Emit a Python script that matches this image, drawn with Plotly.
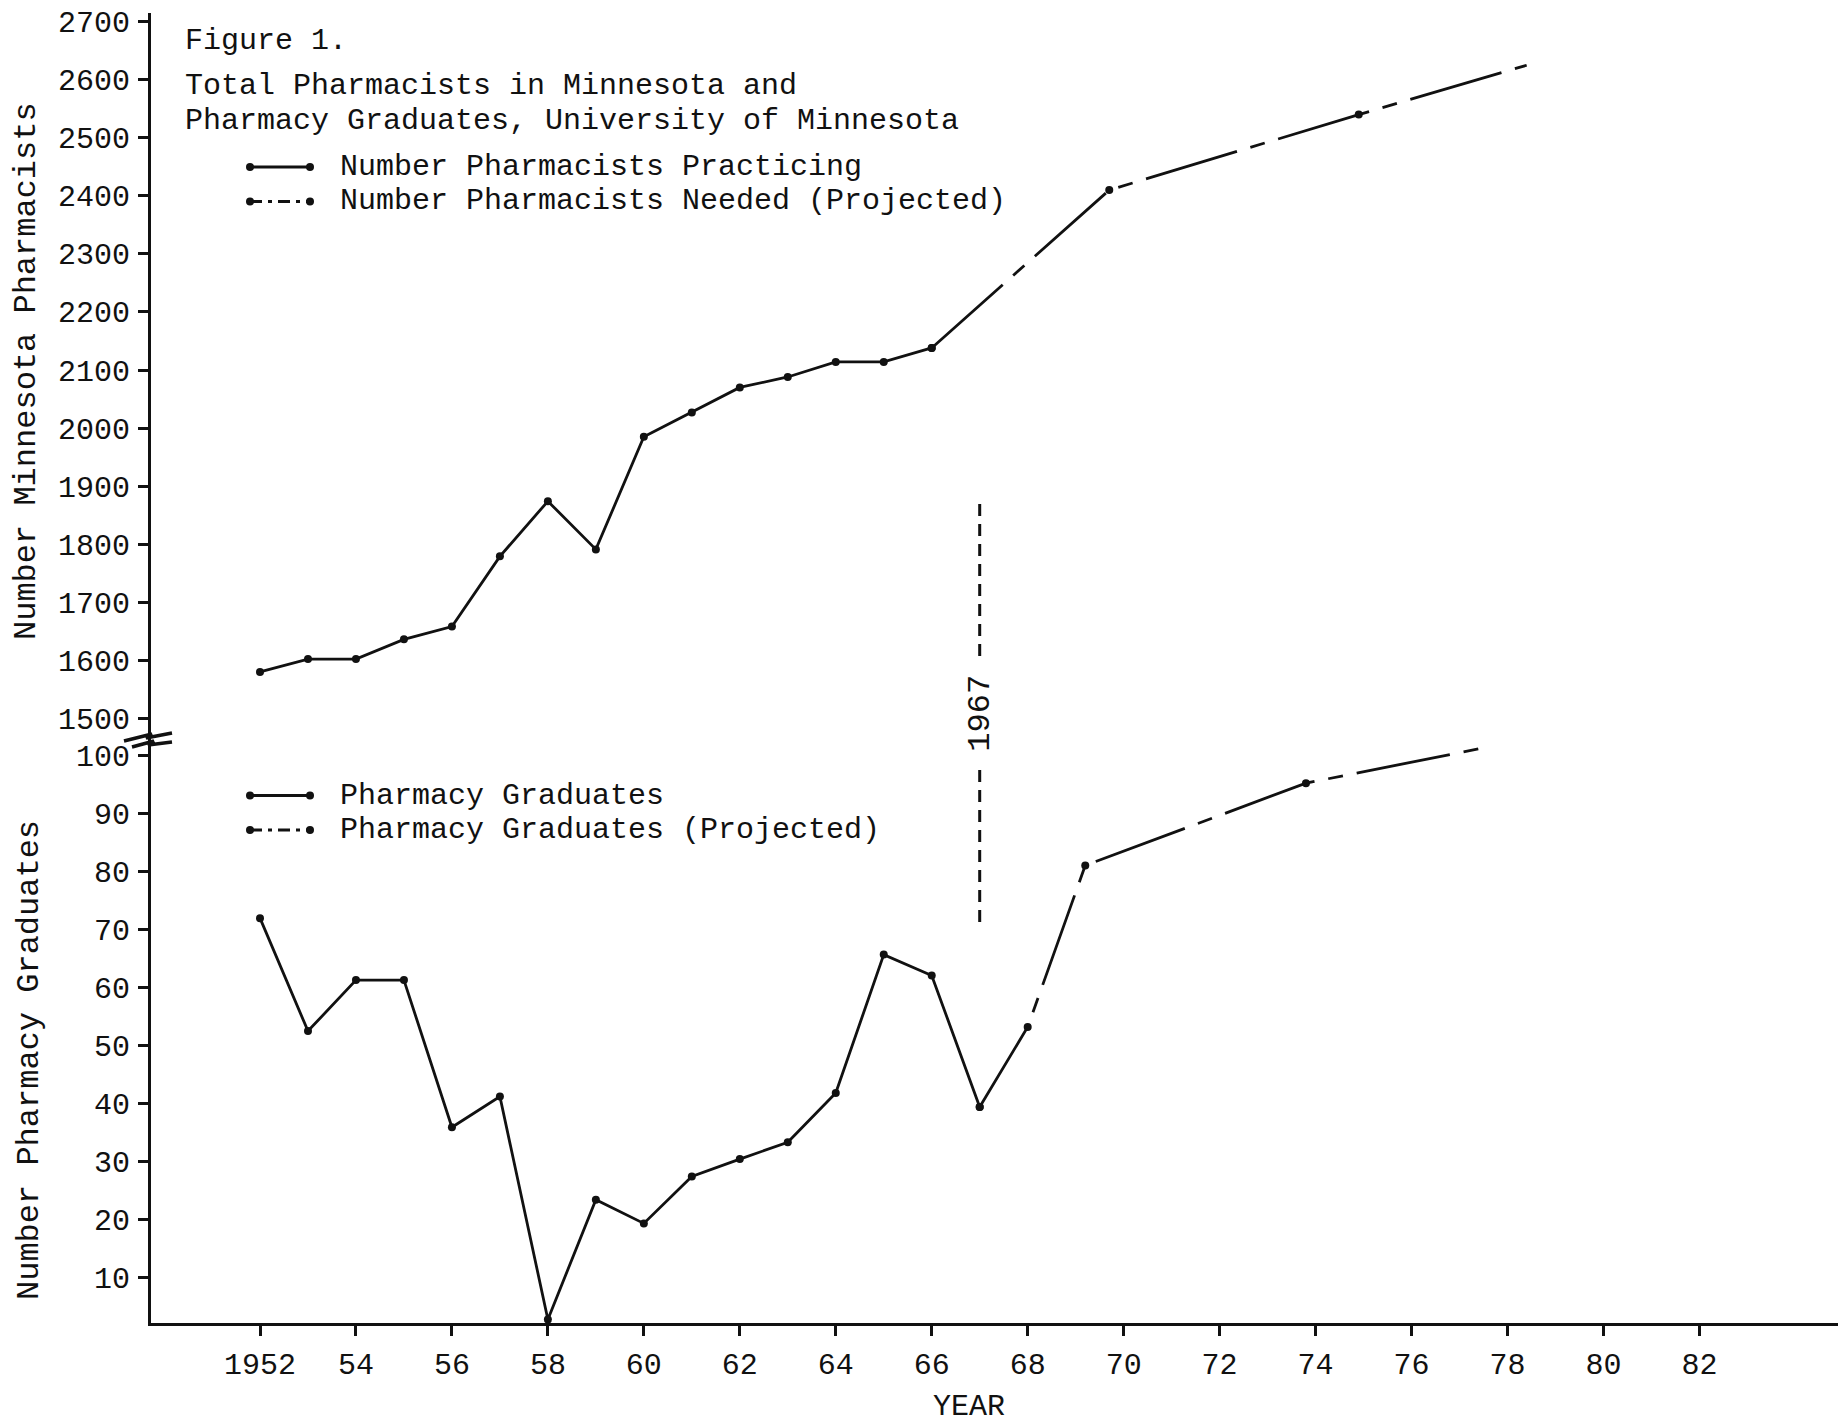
import plotly.graph_objects as go

# ---------------- data ----------------
years_practicing = [1952, 1953, 1954, 1955, 1956, 1957, 1958, 1959,
                    1960, 1961, 1962, 1963, 1964, 1965, 1966]
pharmacists_practicing = [1580, 1602, 1602, 1636, 1658, 1779, 1874, 1791,
                          1985, 2027, 2070, 2088, 2114, 2114, 2138]

years_needed = [1966, 1969.7, 1974.9, 1978.4]
pharmacists_needed = [2138, 2410, 2540, 2625]

years_graduates = [1952, 1953, 1954, 1955, 1956, 1957, 1958, 1959,
                   1960, 1961, 1962, 1963, 1964, 1965, 1966, 1967]
graduates = [72, 52.5, 61.3, 61.3, 35.9, 41.2, 2.7, 23.4,
             19.3, 27.4, 30.4, 33.3, 41.8, 65.7, 62.1, 39.4]

years_graduates_proj = [1967, 1968, 1969.2, 1973.8, 1977.5]
graduates_proj = [39.4, 53.2, 81.1, 95.3, 101.4]

x_tick_years = [1952, 1954, 1956, 1958, 1960, 1962, 1964, 1966,
                1968, 1970, 1972, 1974, 1976, 1978, 1980, 1982]
x_tick_labels = ["1952", "54", "56", "58", "60", "62", "64", "66",
                 "68", "70", "72", "74", "76", "78", "80", "82"]
upper_ticks = [1500, 1600, 1700, 1800, 1900, 2000, 2100, 2200,
               2300, 2400, 2500, 2600, 2700]
lower_ticks = [10, 20, 30, 40, 50, 60, 70, 80, 90, 100]

marker_year = 1967

title_lines = ["Figure 1.",
               "Total Pharmacists in Minnesota and",
               "Pharmacy Graduates, University of Minnesota"]
name_practicing = "Number Pharmacists Practicing"
name_needed = "Number Pharmacists Needed (Projected)"
name_grad = "Pharmacy Graduates"
name_grad_proj = "Pharmacy Graduates (Projected)"

# ---------------- page geometry ----------------
W, H = 1838, 1423
L, T, B = 151, 13, 1323            # plot area edges (px)
PW, PH = W - L, B - T
BREAK_PX = 738                      # axis break between the two panels
PX_PER_YEAR = 47.98
X_MIN = 1952 - (260 - L) / PX_PER_YEAR
X_MAX = X_MIN + PW / PX_PER_YEAR

def xp(px):
    return (px - L) / PW

def yp(py):
    return (B - py) / PH

split = yp(BREAK_PX)

FONT = "Liberation Mono, Courier New, monospace"
INK = "#111111"
DASH_PROJ = "95px,14px,15px,14px"
LW = 2.8
MS = 8
TXT = 30

fig = go.Figure()

def add_series(xs, ys, yaxis, name, dash, end_marker=True):
    # the line itself
    fig.add_trace(go.Scatter(
        x=xs, y=ys, xaxis="x", yaxis=yaxis, mode="lines",
        line=dict(color=INK, width=LW, dash=dash),
        showlegend=False, name=name, hoverinfo="skip"))
    # plotted points (projections end without a dot)
    px_, py_ = (xs, ys) if end_marker else (xs[:-1], ys[:-1])
    fig.add_trace(go.Scatter(
        x=px_, y=py_, xaxis="x", yaxis=yaxis, mode="markers",
        marker=dict(color=INK, size=MS, line=dict(width=0)),
        showlegend=False, name=name))

add_series(years_practicing, pharmacists_practicing, "y2", name_practicing, "solid")
add_series(years_needed, pharmacists_needed, "y2", name_needed, DASH_PROJ, end_marker=False)
add_series(years_graduates, graduates, "y", name_grad, "solid")
add_series(years_graduates_proj, graduates_proj, "y", name_grad_proj, DASH_PROJ, end_marker=False)

shapes = []
annotations = []

# title lines
for txt, py in zip(title_lines, [41, 86, 120.5]):
    annotations.append(dict(text=txt, x=xp(183), y=yp(py), xref="paper", yref="paper",
                            xanchor="left", yanchor="middle", showarrow=False,
                            font=dict(family=FONT, size=TXT, color=INK)))

# hand-made legend entries
def legend_entry(name, py, dash, x0=250, x1=310, xt=338):
    shapes.append(dict(type="line", xref="paper", yref="paper",
                       x0=xp(x0), x1=xp(x1), y0=yp(py), y1=yp(py),
                       line=dict(color=INK, width=LW, dash=dash)))
    for cx in (x0, x1):
        shapes.append(dict(type="circle", xref="paper", yref="paper",
                           x0=xp(cx - 4), x1=xp(cx + 4),
                           y0=yp(py + 4), y1=yp(py - 4),
                           fillcolor=INK, line=dict(color=INK, width=0)))
    annotations.append(dict(text=name, x=xp(xt), y=yp(py), xref="paper", yref="paper",
                            xanchor="left", yanchor="middle", showarrow=False,
                            font=dict(family=FONT, size=TXT, color=INK)))

legend_entry(name_practicing, 167, "solid")
legend_entry(name_needed, 201.5, "12px,6px,4px,6px")
legend_entry(name_grad, 795.5, "solid")
legend_entry(name_grad_proj, 830, "12px,6px,4px,6px")

# axis titles
annotations.append(dict(text="Number Minnesota Pharmacists", x=xp(26), y=yp(371),
                        xref="paper", yref="paper", textangle=-90, showarrow=False,
                        xanchor="center", yanchor="middle",
                        font=dict(family=FONT, size=32, color=INK)))
annotations.append(dict(text="Number Pharmacy Graduates", x=xp(29), y=yp(1060),
                        xref="paper", yref="paper", textangle=-90, showarrow=False,
                        xanchor="center", yanchor="middle",
                        font=dict(family=FONT, size=32, color=INK)))
annotations.append(dict(text="YEAR", x=xp(969), y=yp(1407), xref="paper", yref="paper",
                        showarrow=False, xanchor="center", yanchor="middle",
                        font=dict(family=FONT, size=30, color=INK)))

# 1967 dashed marker line with rotated label
for y0, y1 in [(504, 656), (770, 926)]:
    shapes.append(dict(type="line", xref="x", yref="paper", x0=marker_year, x1=marker_year,
                       y0=yp(y0), y1=yp(y1), line=dict(color=INK, width=3, dash="12px,8px")))
annotations.append(dict(text=str(marker_year), x=marker_year, y=yp(713), xref="x", yref="paper",
                        textangle=-90, showarrow=False, xanchor="center", yanchor="middle",
                        font=dict(family=FONT, size=32, color=INK)))

# axis-break symbol
shapes.append(dict(type="path", xref="paper", yref="paper",
                   path="M {} {} L {} {} L {} {} L {} {}".format(
                       xp(124), yp(741), xp(152), yp(734), xp(146), yp(738), xp(172), yp(733)),
                   line=dict(color=INK, width=3.5)))
shapes.append(dict(type="path", xref="paper", yref="paper",
                   path="M {} {} L {} {} L {} {} L {} {}".format(
                       xp(132), yp(747), xp(154), yp(741), xp(148), yp(745), xp(172), yp(742)),
                   line=dict(color=INK, width=3.5)))

tick_font = dict(family=FONT, size=30, color=INK)

fig.update_layout(
    width=W, height=H,
    margin=dict(l=L, r=W - L - PW, t=T, b=H - B, pad=0),
    paper_bgcolor="white", plot_bgcolor="white",
    showlegend=False,
    xaxis=dict(range=[X_MIN, X_MAX], anchor="y", domain=[0, 1],
               tickmode="array", tickvals=x_tick_years, ticktext=x_tick_labels,
               ticks="outside", ticklen=10, tickwidth=2.5, tickcolor=INK,
               showline=True, linewidth=3, linecolor=INK,
               showgrid=False, zeroline=False, tickfont=tick_font,
               ticklabelstandoff=2),
    yaxis=dict(range=[2.1, 103.1], domain=[0, split], anchor="x",
               tickmode="array", tickvals=lower_ticks,
               ticks="outside", ticklen=10, tickwidth=2.5, tickcolor=INK,
               showline=True, linewidth=3, linecolor=INK,
               showgrid=False, zeroline=False, tickfont=tick_font,
               ticklabelstandoff=2),
    yaxis2=dict(range=[1466.1, 2715], domain=[split, 1], anchor="x",
                tickmode="array", tickvals=upper_ticks,
                ticks="outside", ticklen=10, tickwidth=2.5, tickcolor=INK,
                showline=True, linewidth=3, linecolor=INK,
                showgrid=False, zeroline=False, tickfont=tick_font,
                ticklabelstandoff=2),
    shapes=shapes,
    annotations=annotations,
)

fig.write_html("out.html", config={"displayModeBar": False},
               post_script="document.body.style.margin='0';document.body.style.overflow='hidden';")
